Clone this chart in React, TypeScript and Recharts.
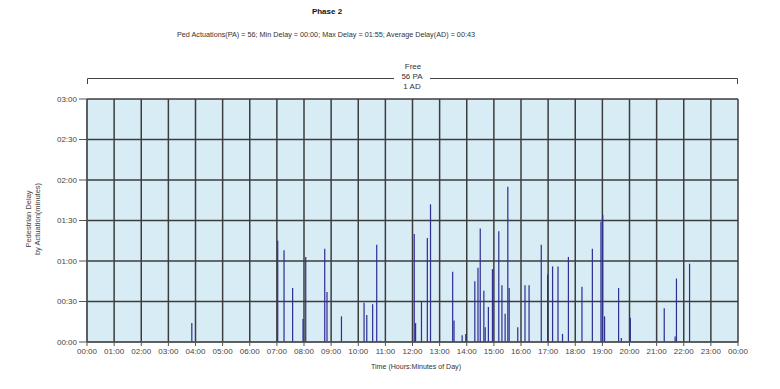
import React from 'react';
import { ComposedChart, Bar, XAxis, YAxis, CartesianGrid } from 'recharts';

// Time of each pedestrian actuation (HH:MM of day)
const actuationTimes = [
  '03:52', '07:02', '07:16', '07:35', '07:58', '08:04', '08:46', '08:51', '09:23',
  '10:13', '10:19', '10:32', '10:41', '10:49', '12:04', '12:07', '12:20', '12:33',
  '12:40', '13:29', '13:32', '13:50', '13:58', '14:18', '14:25', '14:30', '14:38',
  '14:41', '14:48', '14:57', '15:11', '15:18', '15:25', '15:31', '15:34', '15:53',
  '16:09', '16:18', '16:45', '16:59', '17:10', '17:22', '17:32', '17:45', '18:15',
  '18:38', '18:57', '19:01', '19:05', '19:36', '19:42', '20:02', '21:17', '21:41',
  '21:44', '22:13',
];

// Pedestrian delay per actuation, in seconds
const delaySeconds = [
  14, 75, 68, 40, 17, 63, 69, 37, 19,
  29, 20, 28, 72, 1, 80, 14, 30, 77,
  102, 52, 16, 5, 6, 45, 55, 84, 38,
  11, 26, 54, 82, 42, 21, 115, 40, 11,
  42, 42, 72, 50, 56, 56, 6, 63, 41,
  69, 89, 94, 19, 40, 3, 18, 25, 4,
  47, 58,
];

const hourTicks = [0, 60, 120, 180, 240, 300, 360, 420, 480, 540, 600, 660, 720, 780, 840, 900, 960, 1020, 1080, 1140, 1200, 1260, 1320, 1380, 1440];
const delayTicks = [0, 30, 60, 90, 120, 150, 180];

const titleText = 'Phase 2';
const subtitleText = 'Ped Actuations(PA) = 56; Min Delay = 00:00; Max Delay = 01:55; Average Delay(AD) = 00:43';
const annotationLines = ['Free', '56 PA', '1 AD'];
const xAxisTitle = 'Time (Hours:Minutes of Day)';
const yAxisTitleLines = ['Pedestrian Delay', 'by Actuation(minutes)'];

const pad = (n: number) => (n < 10 ? '0' + n : '' + n);
const toMinutes = (s: string) => {
  const [h, m] = s.split(':').map(Number);
  return h * 60 + m;
};
const fmtTime = (v: number) => pad(Math.floor(v / 60) % 24) + ':' + pad(v % 60);
const fmtDelay = (v: number) => pad(Math.floor(v / 60)) + ':' + pad(v % 60);

const data = actuationTimes.map((t, i) => ({ t: toMinutes(t), d: delaySeconds[i] }));

const FONT = '"Liberation Sans", Arial, sans-serif';

export default function App() {
  return (
    <div style={{ position: 'absolute', left: 0, top: 0, width: 780, height: 389, background: '#fff' }}>
      <ComposedChart
        width={780}
        height={389}
        data={data}
        margin={{ top: 99, right: 42, bottom: 17, left: 37 }}
      >
        <CartesianGrid
          stroke="#3c3c3c"
          strokeWidth={1.5}
          fill="#d8ecf6"
          fillOpacity={1}
          horizontalValues={delayTicks}
          verticalValues={hourTicks}
        />
        <XAxis
          dataKey="t"
          type="number"
          domain={[0, 1440]}
          ticks={hourTicks}
          interval={0}
          tickFormatter={fmtTime}
          tickSize={4}
          tickMargin={2}
          height={30}
          stroke="#555"
          tick={{ fontSize: 8, fill: '#444', fontFamily: FONT }}
        />
        <YAxis
          type="number"
          domain={[0, 180]}
          ticks={delayTicks}
          interval={0}
          tickFormatter={fmtDelay}
          tickSize={8}
          tickMargin={2}
          width={50}
          stroke="#555"
          tick={{ fontSize: 8, fill: '#444', fontFamily: FONT }}
        />
        <Bar dataKey="d" fill="#2f2f94" barSize={2.5} isAnimationActive={false} />
      </ComposedChart>
      <svg
        width={780}
        height={389}
        style={{ position: 'absolute', left: 0, top: 0, pointerEvents: 'none' }}
        fontFamily={FONT}
      >
        <text x={327} y={14} textAnchor="middle" fontSize={8} fontWeight="bold" fill="#111">
          {titleText}
        </text>
        <text x={326} y={36.5} textAnchor="middle" fontSize={7.5} fill="#333" textLength={298} lengthAdjust="spacingAndGlyphs">
          {subtitleText}
        </text>
        <line x1={87.5} y1={78.5} x2={737.5} y2={78.5} stroke="#444" strokeWidth={1} />
        <line x1={87.5} y1={78.5} x2={87.5} y2={84} stroke="#444" strokeWidth={1} />
        <line x1={737.5} y1={78.5} x2={737.5} y2={84} stroke="#444" strokeWidth={1} />
        <rect x={394} y={72} width={36} height={9} fill="#fff" />
        <text x={413} y={69} textAnchor="middle" fontSize={8} fill="#333">{annotationLines[0]}</text>
        <text x={412} y={79} textAnchor="middle" fontSize={8} fill="#333">{annotationLines[1]}</text>
        <text x={412} y={88.5} textAnchor="middle" fontSize={8} fill="#333">{annotationLines[2]}</text>
        <text x={416} y={369} textAnchor="middle" fontSize={7.5} fill="#333" textLength={90} lengthAdjust="spacingAndGlyphs">
          {xAxisTitle}
        </text>
        <text transform="translate(30.5,219) rotate(-90)" textAnchor="middle" fontSize={7.5} fill="#444">
          {yAxisTitleLines[0]}
        </text>
        <text transform="translate(39.5,219) rotate(-90)" textAnchor="middle" fontSize={7.5} fill="#444">
          {yAxisTitleLines[1]}
        </text>
      </svg>
    </div>
  );
}
